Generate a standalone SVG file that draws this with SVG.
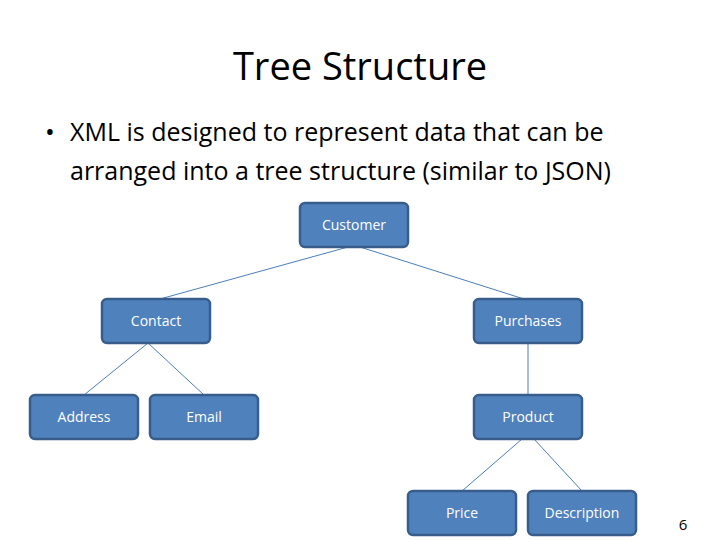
<svg xmlns="http://www.w3.org/2000/svg" width="720" height="540" viewBox="0 0 720 540">
<style>
.n rect{fill:#4f81bd;stroke:#385d8a;stroke-width:2.5}
.n text{fill:#fff;font-family:"Open Sans","Liberation Sans",sans-serif;font-size:14px;text-anchor:middle}
.c line{stroke:#4a7ebb;stroke-width:1}
.t{font-family:"Open Sans","Liberation Sans",sans-serif;fill:#000}
</style>
<rect width="720" height="540" fill="#fff"/>
<text class="t" x="360" y="80" font-size="38" text-anchor="middle">Tree Structure</text>
<text class="t" x="45" y="141" font-size="26">•</text>
<text class="t" x="70" y="141" font-size="25">XML is designed to represent data that can be</text>
<text class="t" x="70" y="180" font-size="25">arranged into a tree structure (similar to JSON)</text>
<g class="c">
<line x1="348" y1="247" x2="160" y2="299"/>
<line x1="360" y1="247" x2="524" y2="299"/>
<line x1="148" y1="343" x2="84" y2="395"/>
<line x1="148" y1="343" x2="204" y2="395"/>
<line x1="528" y1="343" x2="528" y2="395"/>
<line x1="522" y1="439" x2="462" y2="491"/>
<line x1="534" y1="439" x2="582" y2="491"/>
</g>
<g id="customer" class="n"><rect x="300" y="203" width="108" height="44" rx="5"/><text x="354" y="230">Customer</text></g>
<g id="contact" class="n"><rect x="102" y="299" width="108" height="44" rx="5"/><text x="156" y="326">Contact</text></g>
<g id="purchases" class="n"><rect x="474" y="299" width="108" height="44" rx="5"/><text x="528" y="326">Purchases</text></g>
<g id="address" class="n"><rect x="30" y="395" width="108" height="44" rx="5"/><text x="84" y="422">Address</text></g>
<g id="email" class="n"><rect x="150" y="395" width="108" height="44" rx="5"/><text x="204" y="422">Email</text></g>
<g id="product" class="n"><rect x="474" y="395" width="108" height="44" rx="5"/><text x="528" y="422">Product</text></g>
<g id="price" class="n"><rect x="408" y="491" width="108" height="44" rx="5"/><text x="462" y="518">Price</text></g>
<g id="description" class="n"><rect x="528" y="491" width="108" height="44" rx="5"/><text x="582" y="518">Description</text></g>
<text class="t" x="683" y="530" font-size="15" text-anchor="middle">6</text>
</svg>
